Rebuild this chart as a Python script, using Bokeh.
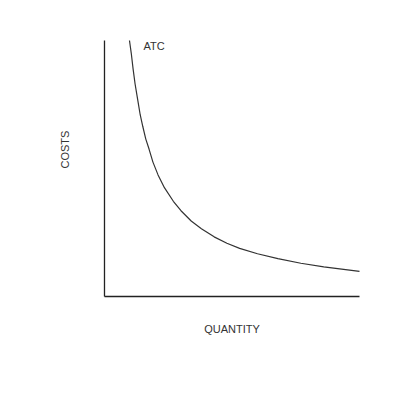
from bokeh.plotting import figure
from bokeh.models import Range1d, Label
from bokeh.embed import file_html
from bokeh.resources import INLINE

# Data
quantity = [0.98, 1.05, 1.12, 1.2, 1.3, 1.4, 1.5, 1.62, 1.75, 1.9, 2.1, 2.35, 2.7, 3.0,
            3.4, 3.8, 4.3, 4.8, 5.3, 6.0, 6.8, 7.7, 8.6, 9.3, 10.0]
atc = [10.0, 9.5, 8.9, 8.3, 7.7, 7.1, 6.65, 6.15, 5.75, 5.25, 4.75, 4.25, 3.72, 3.35,
       2.95, 2.65, 2.33, 2.08, 1.88, 1.67, 1.48, 1.3, 1.16, 1.07, 0.98]
curve_label = "ATC"
x_title = "QUANTITY"
y_title = "COSTS"
x_axis_end = 10.0
y_axis_end = 10.0

p = figure(width=400, height=400, output_backend="svg", toolbar_location=None,
           x_range=Range1d(-4.078, 11.608), y_range=Range1d(-4.0625, 11.5625),
           min_border=0)
p.outline_line_color = None
p.axis.visible = False
p.xgrid.grid_line_color = None
p.ygrid.grid_line_color = None
p.background_fill_color = "white"
p.border_fill_color = "white"

# axis lines
p.segment(x0=[0, 0], y0=[0, 0], x1=[0, x_axis_end], y1=[y_axis_end, 0],
          line_color="#222222", line_width=1.3)

p.line(quantity, atc, line_color="#333333", line_width=1.2)

font = "Liberation Sans"
p.add_layout(Label(x=1.53, y=9.77, text=curve_label, text_font=font, text_font_size="11px",
                   text_color="#333333", text_baseline="middle", text_align="left"))
p.add_layout(Label(x=5.0, y=-1.25, text=x_title, text_font=font, text_font_size="11px",
                   text_color="#333333", text_baseline="middle", text_align="center"))
p.add_layout(Label(x=-1.53, y=5.74, text=y_title, text_font=font, text_font_size="11px",
                   text_color="#333333", text_baseline="middle", text_align="center", angle=1.5708))

open("out.html", "w").write(file_html(p, INLINE))
